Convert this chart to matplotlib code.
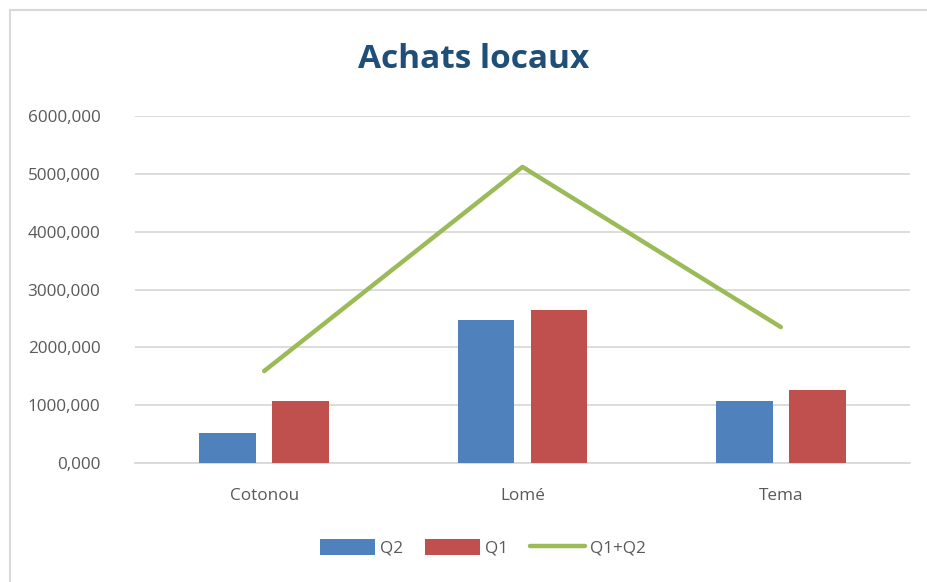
import matplotlib.pyplot as plt
import numpy as np
from matplotlib.lines import Line2D
from matplotlib.ticker import FuncFormatter

# Data
villes = ["Cotonou", "Lomé", "Tema"]
q2 = [520, 2470, 1080]
q1 = [1080, 2650, 1270]
total = [1590, 5120, 2350]

plt.rcParams['font.family'] = ['Open Sans', 'DejaVu Sans']

fig = plt.figure(figsize=(9.28, 5.82), dpi=100)
ax = fig.add_axes([135/928, 119/582, 775/928, 347/582])

x = np.arange(len(villes))
w = 0.22
off = 0.141
b2 = ax.bar(x - off, q2, width=w, color="#4F81BD", label="Q2", zorder=3)
b1 = ax.bar(x + off, q1, width=w, color="#C0504D", label="Q1", zorder=3)
ln, = ax.plot(x, total, color="#9BBB59", linewidth=3.2, solid_capstyle="round",
              label="Q1+Q2", zorder=4)

ax.set_xlim(-0.5, 2.5)
ax.set_ylim(0, 6000)
ax.set_yticks(np.arange(0, 6001, 1000))
ax.yaxis.set_major_formatter(FuncFormatter(lambda v, p: f"{v:.3f}".replace(".", ",")))
ax.set_xticks(x)
ax.set_xticklabels(villes)
ax.tick_params(axis="both", length=0, labelsize=12.3, labelcolor="#595959")
ax.tick_params(axis="y", pad=25)
ax.tick_params(axis="x", pad=18)

ax.grid(axis="y", color="#D9D9D9", linewidth=1.3, zorder=0)
for s in ["top", "right", "left"]:
    ax.spines[s].set_visible(False)
ax.spines["bottom"].set_color("#D9D9D9")
ax.spines["bottom"].set_linewidth(1.3)

fig.text(474/928, 1 - 60/582, "Achats locaux", ha="center", va="center",
         fontsize=24, fontweight="bold", color="#1F4E79")

leg = fig.legend([b2, b1, ln], ["Q2", "Q1", "Q1+Q2"], loc="center",
                 bbox_to_anchor=(483/928, 1 - 548/582),
                 ncol=3, frameon=False, fontsize=12.3, handlelength=3.2,
                 handleheight=1.0, columnspacing=1.3, handletextpad=0.3)
for t in leg.get_texts():
    t.set_color("#595959")

# outer frame (top and left edges visible)
fig.add_artist(Line2D([10/928, 10/928], [0, 1 - 10/582], color="#D9D9D9", linewidth=1.5))
fig.add_artist(Line2D([10/928, 1], [1 - 10/582, 1 - 10/582], color="#D9D9D9", linewidth=1.5))

plt.savefig("out.png", dpi=100)
